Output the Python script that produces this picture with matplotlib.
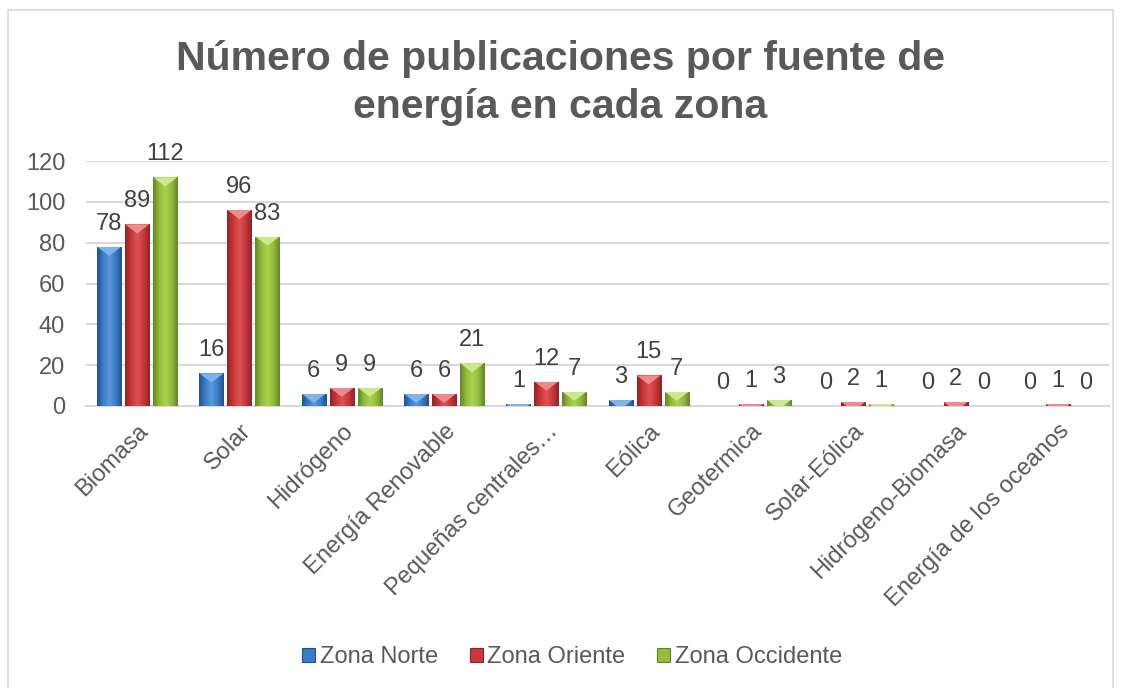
import matplotlib.pyplot as plt
import numpy as np
from matplotlib.colors import LinearSegmentedColormap
from matplotlib.patches import Patch, Polygon, Rectangle
from matplotlib.transforms import ScaledTranslation

categorias = ['Biomasa', 'Solar', 'Hidrógeno', 'Energía Renovable',
              'Pequeñas centrales…', 'Eólica', 'Geotermica', 'Solar-Eólica',
              'Hidrógeno-Biomasa', 'Energía de los oceanos']
zona_norte = [78, 16, 6, 6, 1, 3, 0, 0, 0, 0]
zona_oriente = [89, 96, 9, 6, 12, 15, 1, 2, 2, 1]
zona_occidente = [112, 83, 9, 21, 7, 7, 3, 1, 0, 0]
series = ['Zona Norte', 'Zona Oriente', 'Zona Occidente']
y_ticks = [0, 20, 40, 60, 80, 100, 120]
titulo = ['Número de publicaciones por fuente de', 'energía en cada zona']

# (dark edge, mid, light, top bevel)
colores = [('#24508a', '#3b7cc6', '#5a98dc', '#7fb3ea'),
           ('#8e2426', '#c8383a', '#dc5456', '#ee8a8b'),
           ('#66832a', '#93bd3c', '#a9d24f', '#cbe88a')]

plt.rcParams['font.family'] = ['Liberation Sans', 'DejaVu Sans']
fs = 17

fig = plt.figure(figsize=(11.25, 6.88), dpi=100)
W, H = 1125, 688
ax = fig.add_axes([86 / W, (H - 406) / H, 1023 / W, 245 / H])

x = np.arange(len(categorias))
ancho = 0.235
paso = 0.274
datos = [zona_norte, zona_oriente, zona_occidente]

for k, vals in enumerate(datos):
    dark, mid, light, top = colores[k]
    cmap = LinearSegmentedColormap.from_list('b%d' % k, [dark, mid, light, mid, dark])
    grad = np.linspace(0, 1, 64).reshape(1, -1)
    pos = x + (k - 1) * paso
    bars = ax.bar(pos, vals, ancho, color=mid, zorder=3, linewidth=0)
    for b, v in zip(bars, vals):
        if v <= 0:
            continue
        x0 = b.get_x()
        x1 = x0 + b.get_width()
        im = ax.imshow(grad, cmap=cmap, aspect='auto', extent=(x0, x1, 0, v),
                       zorder=3.5, interpolation='bicubic')
        im.set_clip_path(b)
        tri = Polygon([(x0, v), (x1, v), ((x0 + x1) / 2, v - 4.5)], closed=True,
                      facecolor=top, edgecolor='none', zorder=4)
        ax.add_patch(tri)
        tri.set_clip_path(b)
    for p, v in zip(pos, vals):
        ax.annotate(str(v), (p, v), xytext=(0, 12.2), textcoords='offset points',
                    ha='center', va='baseline', fontsize=fs, color='#404040')

ax.set_xlim(-0.5, len(categorias) - 0.5)
ax.set_ylim(0, 120)
ax.set_yticks(y_ticks)
ax.set_xticks(x)
ax.set_xticklabels(categorias, rotation=45, ha='right', va='top',
                   rotation_mode='anchor', fontsize=fs, color='#595959')
desplaza = ScaledTranslation(-8 / 100, -3 / 100, fig.dpi_scale_trans)
for lab in ax.get_xticklabels():
    lab.set_transform(lab.get_transform() + desplaza)
ax.tick_params(axis='y', length=0, pad=15, labelsize=fs, labelcolor='#595959')
ax.tick_params(axis='x', length=0, pad=10)
ax.grid(axis='y', color='#d9d9d9', linewidth=1.5, zorder=0)
ax.set_axisbelow(True)
for s in ['top', 'right', 'left']:
    ax.spines[s].set_visible(False)
ax.spines['bottom'].set_color('#d9d9d9')
ax.spines['bottom'].set_linewidth(1.5)

for linea, base in zip(titulo, [70, 118]):
    fig.text(560 / W, 1 - base / H, linea, ha='center', va='baseline',
             fontsize=29.5, fontweight='bold', color='#595959')

handles = [Patch(facecolor=colores[k][1], edgecolor=colores[k][0], linewidth=0.8)
           for k in range(3)]
fig.legend(handles, series, loc='center', bbox_to_anchor=(572 / W, 1 - 657 / H),
           ncol=3, frameon=False, fontsize=fs, labelcolor='#595959',
           handlelength=0.55, handleheight=0.55, handletextpad=0.2,
           columnspacing=1.35)

fig.patches.append(Rectangle((8 / W, -0.05), 1105 / W, 1.05 - 10 / H,
                             transform=fig.transFigure, fill=False,
                             edgecolor='#d9d9d9', linewidth=1.2))

fig.savefig('out.png', dpi=100, facecolor='white')
